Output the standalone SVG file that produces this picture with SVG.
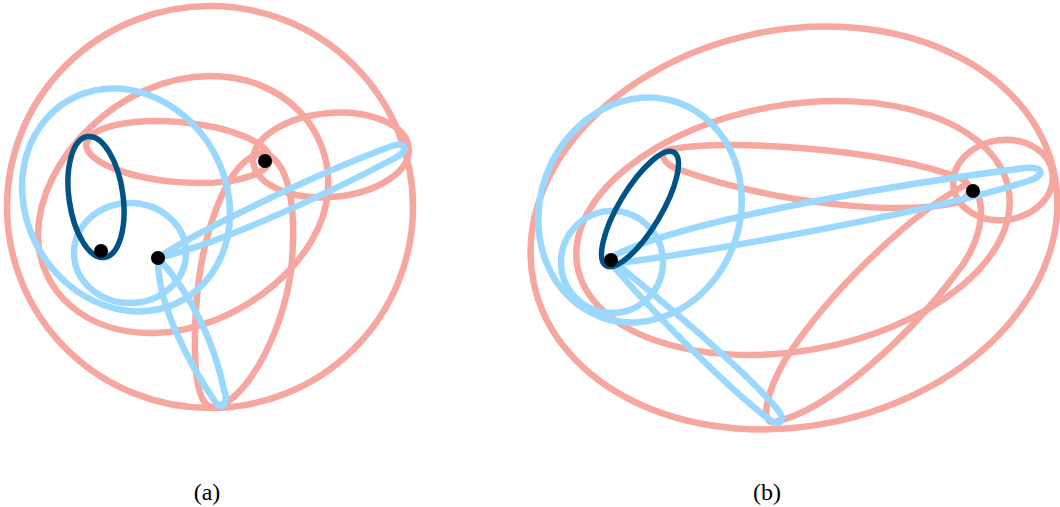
<svg xmlns="http://www.w3.org/2000/svg" width="1060" height="507" viewBox="0 0 1060 507">
<style>
.pk{fill:none;stroke:#F6A7A0;stroke-width:6.5}
.lb{fill:none;stroke:#9AD8FE;stroke-width:6.5;stroke-linejoin:round}
.db{fill:none;stroke:#005384;stroke-width:5.5}
.dot{fill:#000}
.lbl{font-family:"Liberation Serif","DejaVu Serif",serif;font-size:24px;fill:#000;text-anchor:middle}
</style>
<rect width="1060" height="507" fill="#fff"/>
<g id="panel-a">
  <g id="a-pink">
    <ellipse class="pk" cx="210" cy="207" rx="203" ry="201"/>
    <path class="pk" d="M 210 76 C 285 76, 332 130, 328 190 C 324 260, 240 330, 155 333 C 85 335, 38 290, 38 235 C 38 160, 120 76, 210 76 Z"/>
    <ellipse class="pk" cx="178" cy="152" rx="92" ry="30" transform="rotate(5 178 152)"/>
    <path class="pk" d="M 262 153 C 290 158, 296 210, 292 260 C 288 320, 250 400, 215 407 C 195 410, 193 360, 196 310 C 200 240, 225 160, 262 153 Z"/>
    <ellipse class="pk" cx="331" cy="155" rx="78" ry="42" transform="rotate(-5 331 155)"/>
  </g>
  <g id="a-blue">
    <ellipse class="lb" cx="126" cy="200" rx="100" ry="115" transform="rotate(-30 126 200)"/>
    <ellipse class="lb" cx="130" cy="253" rx="56" ry="50"/>
    <path class="lb" d="M 158 258 C 195 232, 320 172, 392 146 C 408 141, 408 152, 395 158 C 320 198, 215 245, 158 258 Z"/>
    <path class="lb" d="M 158 258 C 157 305, 190 365, 216 403 C 224 412, 228 400, 224 390 C 215 345, 192 295, 160 260 Z"/>
  </g>
  <g id="a-dark">
    <ellipse class="db" cx="96" cy="197" rx="27" ry="61" transform="rotate(-8 96 197)"/>
  </g>
  <g id="a-dots">
    <circle class="dot" cx="101" cy="251" r="7"/>
    <circle class="dot" cx="158" cy="258" r="7"/>
    <circle class="dot" cx="265" cy="161" r="7"/>
  </g>
  <text class="lbl" x="207" y="500">(a)</text>
</g>
<g id="panel-b">
  <g id="b-pink">
    <ellipse class="pk" cx="794" cy="228" rx="266" ry="198" transform="rotate(-12 794 228)"/>
    <ellipse class="pk" cx="793" cy="228" rx="219" ry="123" transform="rotate(-10 793 228)"/>
    <path class="pk" d="M 668 150 C 720 138, 880 148, 960 178 C 975 184, 970 200, 955 203 C 900 215, 780 205, 680 170 C 660 163, 660 152, 668 150 Z"/>
    <path class="pk" d="M 965 185 C 990 190, 985 240, 955 275 C 910 335, 830 410, 775 422 C 760 425, 765 395, 785 360 C 830 290, 910 215, 965 185 Z"/>
    <ellipse class="pk" cx="1003" cy="180" rx="50" ry="40" transform="rotate(-8 1003 180)"/>
  </g>
  <g id="b-blue">
    <ellipse class="lb" cx="640" cy="210" rx="100" ry="114" transform="rotate(20 640 210)"/>
    <ellipse class="lb" cx="612" cy="262" rx="51" ry="51"/>
    <path class="lb" d="M 610 258 C 680 218, 930 180, 1025 168 C 1045 166, 1045 176, 1028 181 C 940 210, 720 250, 612 264 Z"/>
    <path class="lb" d="M 610 262 C 650 310, 730 390, 770 420 C 782 428, 785 418, 778 410 C 740 365, 660 300, 612 260 Z"/>
  </g>
  <g id="b-dark">
    <ellipse class="db" cx="640" cy="209" rx="66" ry="21" transform="rotate(-59 640 209)"/>
  </g>
  <g id="b-dots">
    <circle class="dot" cx="611" cy="260" r="7"/>
    <circle class="dot" cx="973" cy="191" r="7"/>
  </g>
  <text class="lbl" x="767" y="500">(b)</text>
</g>
</svg>
